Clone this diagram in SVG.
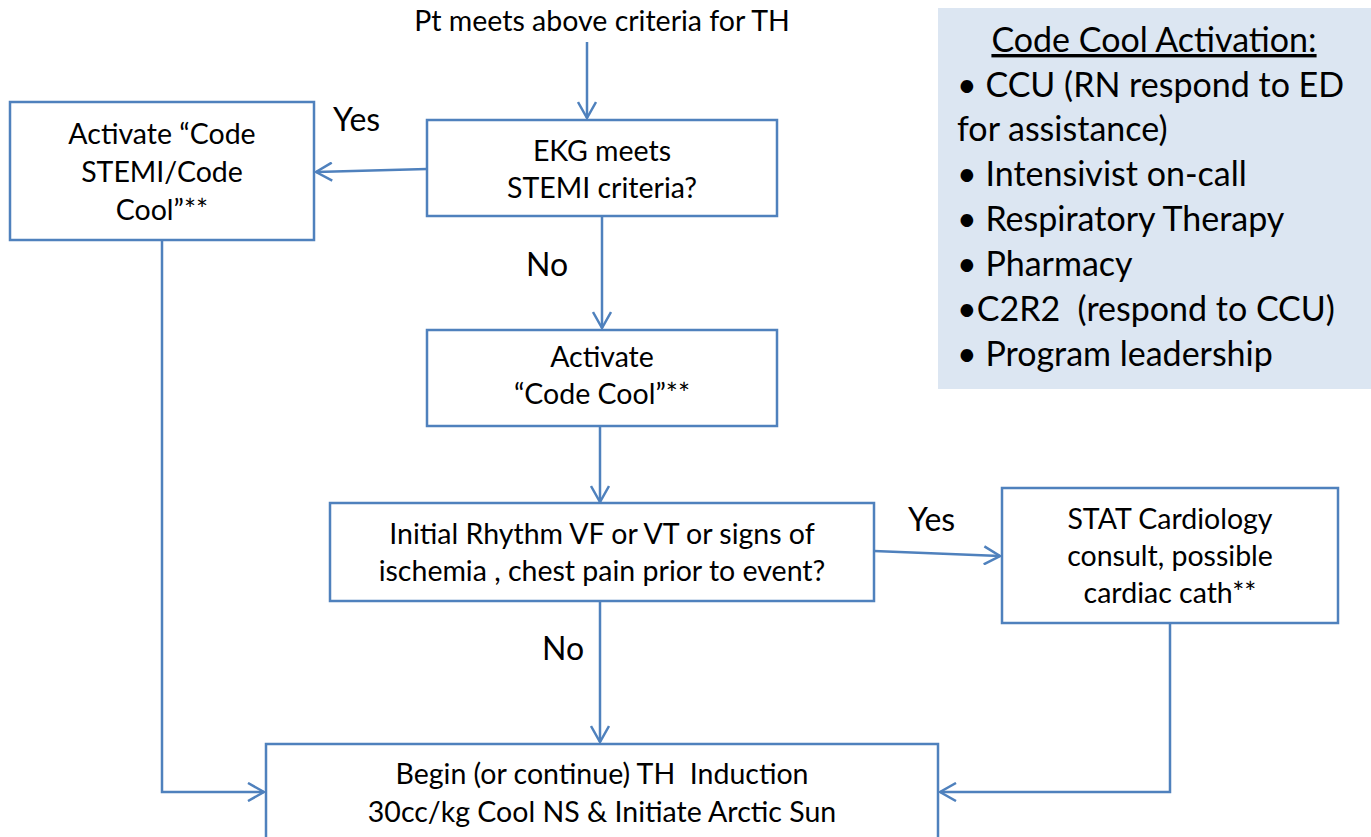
<svg xmlns="http://www.w3.org/2000/svg" width="1371" height="837" viewBox="0 0 1371 837">
<style>
text{font-family:Lato,"Open Sans","Liberation Sans",sans-serif;fill:#000;white-space:pre}
.t{font-size:28.5px;text-anchor:middle}
.l{font-size:32px}
.b{font-size:34px}
.box{fill:#fff;stroke:#4f81bd;stroke-width:2.5}
.c{fill:none;stroke:#4f81bd;stroke-width:2.5;marker-end:url(#ah)}
</style>
<defs>
<marker id="ah" viewBox="0 0 20 20" refX="18" refY="10" markerWidth="20" markerHeight="20" markerUnits="userSpaceOnUse" orient="auto">
<path d="M2,1 L18,10 L2,19" fill="none" stroke="#4f81bd" stroke-width="2.5"/>
</marker>
</defs>
<g id="start"><text class="t" x="602" y="31">Pt meets above criteria for TH</text></g>
<g id="info">
<rect x="938" y="8" width="433" height="381" fill="#dce6f2"/>
<text class="b" x="1154" y="52" text-anchor="middle" text-decoration="underline">Code Cool Activation:</text>
<text class="b" x="957" y="97">• CCU (RN respond to ED</text>
<text class="b" x="957" y="141">for assistance)</text>
<text class="b" x="957" y="186">• Intensivist on-call</text>
<text class="b" x="957" y="231">• Respiratory Therapy</text>
<text class="b" x="957" y="276">• Pharmacy</text>
<text class="b" x="957" y="321">•C2R2  (respond to CCU)</text>
<text class="b" x="957" y="366">• Program leadership</text>
</g>
<g id="ekg"><rect class="box" x="427" y="120" width="350" height="96"/>
<text class="t" x="602" y="161">EKG meets</text><text class="t" x="602" y="198">STEMI criteria?</text></g>
<g id="stemi"><rect class="box" x="10" y="102" width="304" height="138"/>
<text class="t" x="162" y="144">Activate “Code</text><text class="t" x="162" y="182">STEMI/Code</text><text class="t" x="162" y="220">Cool”**</text></g>
<g id="codecool"><rect class="box" x="427" y="330" width="350" height="96"/>
<text class="t" x="602" y="367">Activate</text><text class="t" x="602" y="404">“Code Cool”**</text></g>
<g id="rhythm"><rect class="box" x="330" y="503" width="544" height="98"/>
<text class="t" x="602" y="544">Initial Rhythm VF or VT or signs of</text><text class="t" x="602" y="581">ischemia , chest pain prior to event?</text></g>
<g id="stat"><rect class="box" x="1002" y="488" width="336" height="135"/>
<text class="t" x="1170" y="529">STAT Cardiology</text><text class="t" x="1170" y="566">consult, possible</text><text class="t" x="1170" y="603">cardiac cath**</text></g>
<g id="induction"><rect class="box" x="266" y="744" width="672" height="110"/>
<text class="t" x="602" y="784">Begin (or continue) TH  Induction</text><text class="t" x="602" y="822">30cc/kg Cool NS &amp; Initiate Arctic Sun</text></g>
<g id="connectors">
<path class="c" d="M587,42 V118"/>
<path class="c" d="M427,169 L316,172"/>
<path class="c" d="M602,216 V328"/>
<path class="c" d="M600,426 V502"/>
<path class="c" d="M874,551 L1000,556"/>
<path class="c" d="M600,601 V742"/>
<path class="c" d="M162,240 V792 H264"/>
<path class="c" d="M1170,623 V792 H940"/>
<text class="l" x="333" y="131">Yes</text>
<text class="l" x="526" y="276">No</text>
<text class="l" x="908" y="531">Yes</text>
<text class="l" x="542" y="660">No</text>
</g>
</svg>
